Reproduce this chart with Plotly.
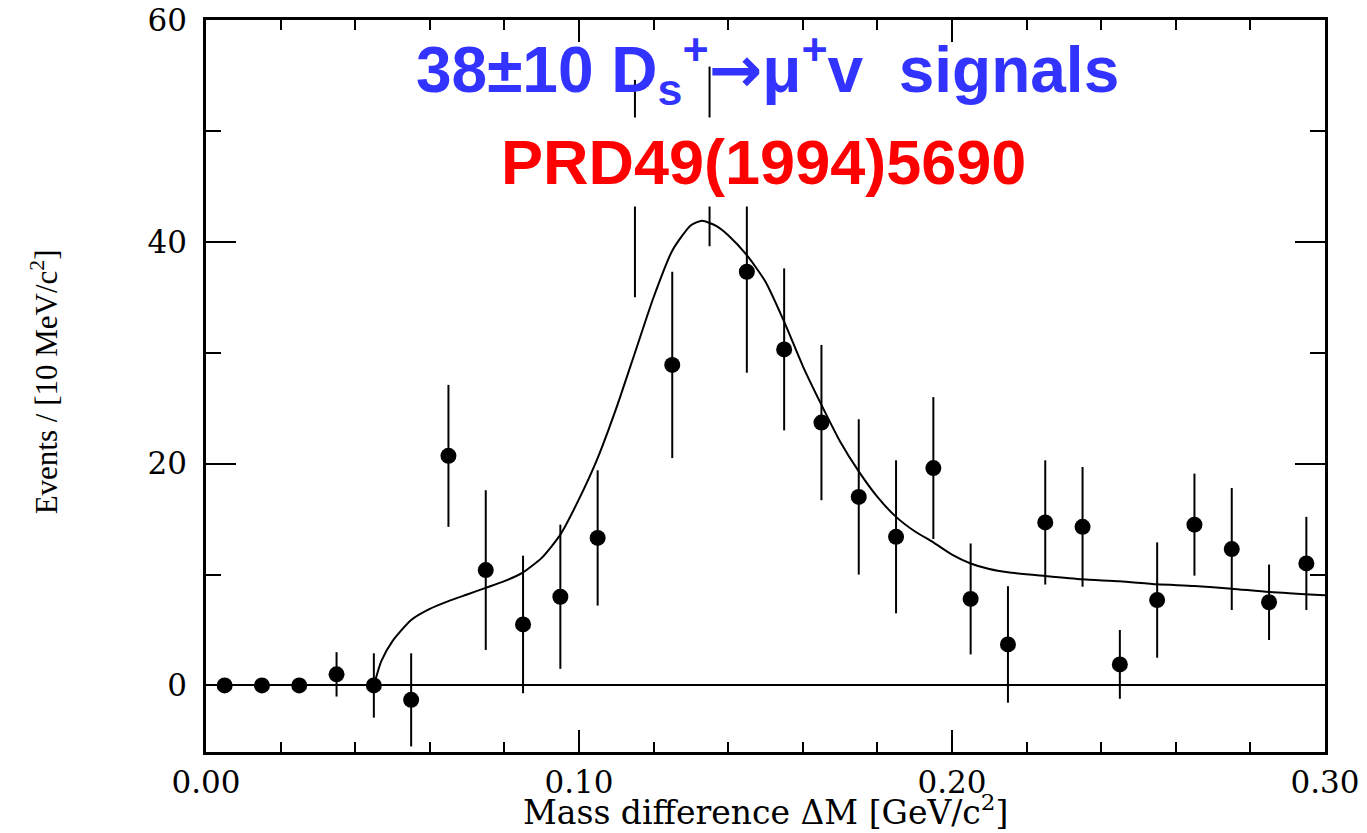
import plotly.graph_objects as go

# Data
bin_centers = [0.005, 0.015, 0.025, 0.035, 0.045, 0.055, 0.065, 0.075, 0.085, 0.095,
               0.105, 0.115, 0.125, 0.135, 0.145, 0.155, 0.165, 0.175, 0.185, 0.195,
               0.205, 0.215, 0.225, 0.235, 0.245, 0.255, 0.265, 0.275, 0.285, 0.295]
events = [0.0, 0.0, 0.0, 1.0, 0.0, -1.3, 20.7, 10.4, 5.5, 8.0,
          13.3, 44.8, 28.9, 47.7, 37.3, 30.3, 23.7, 17.0, 13.4, 19.6,
          7.8, 3.7, 14.7, 14.3, 1.9, 7.7, 14.5, 12.3, 7.5, 11.0]
errors = [0.0, 0.0, 0.0, 2.0, 2.9, 4.2, 6.4, 7.2, 6.2, 6.5,
          6.1, 9.8, 8.4, 8.1, 9.1, 7.3, 7.0, 7.0, 6.9, 6.4,
          5.0, 5.25, 5.6, 5.4, 3.1, 5.2, 4.6, 5.5, 3.4, 4.2]

fit_x = [0.045, 0.047, 0.050, 0.055, 0.060, 0.065, 0.070, 0.075, 0.080, 0.085,
         0.090, 0.095, 0.100, 0.105, 0.110, 0.115, 0.120, 0.125, 0.130, 0.133,
         0.137, 0.140, 0.145, 0.150, 0.155, 0.160, 0.165, 0.170, 0.175, 0.180,
         0.185, 0.190, 0.195, 0.200, 0.205, 0.210, 0.215, 0.225, 0.235, 0.245,
         0.255, 0.265, 0.275, 0.285, 0.300]
fit_y = [0.0, 2.2, 4.0, 5.9, 6.9, 7.6, 8.2, 8.8, 9.4, 10.2,
         11.5, 13.6, 16.8, 20.5, 25.0, 30.0, 35.0, 39.2, 41.5, 41.9,
         41.4, 40.6, 38.8, 36.4, 32.8, 28.8, 25.3, 22.0, 19.3, 17.0,
         15.2, 13.9, 12.9, 11.8, 11.0, 10.5, 10.2, 9.87, 9.57, 9.39,
         9.12, 8.97, 8.73, 8.43, 8.13]

x_tick_vals = [0.0, 0.1, 0.2, 0.3]
x_tick_text = ["0.00", "0.10", "0.20", "0.30"]
y_tick_vals = [0, 20, 40, 60]
y_tick_text = ["0", "20", "40", "60"]

x_title = "Mass difference ΔM [GeV/c<sup>2</sup>]"
y_title = "Events / [10 MeV/c<sup>2</sup>]"

serif = "DejaVu Serif"

fig = go.Figure()
fig.add_trace(go.Scatter(
    x=fit_x, y=fit_y, mode="lines",
    line=dict(color="black", width=2, shape="spline", smoothing=0.6),
    showlegend=False, hoverinfo="skip"))
fig.add_trace(go.Scatter(
    x=bin_centers, y=events, mode="markers",
    marker=dict(color="black", size=16, symbol="circle"),
    error_y=dict(type="data", array=errors, visible=True, color="black",
                 thickness=2, width=0),
    showlegend=False))

fig.update_layout(
    width=1367, height=833,
    margin=dict(l=198, r=50, t=12, b=89),
    paper_bgcolor="white", plot_bgcolor="white",
    font=dict(family=serif, color="black"),
)

fig.update_xaxes(
    range=[0, 0.3], showgrid=False, zeroline=False, automargin=False,
    showline=True, linecolor="black", linewidth=2.5, mirror="ticks",
    ticks="inside", ticklen=22, tickwidth=2, tickcolor="black",
    tickmode="array", tickvals=x_tick_vals, ticktext=x_tick_text,
    tickfont=dict(family=serif, size=31, color="black"),
    ticklabelstandoff=1, ticklabeloverflow="allow",
    minor=dict(ticks="inside", ticklen=10, tickwidth=2, tickcolor="black",
               tickmode="linear", tick0=0, dtick=0.02, showgrid=False),
)
fig.update_yaxes(
    range=[-6, 60], showgrid=False, automargin=False,
    zeroline=True, zerolinecolor="black", zerolinewidth=2,
    showline=True, linecolor="black", linewidth=2.5, mirror="ticks",
    ticks="inside", ticklen=30, tickwidth=2, tickcolor="black",
    tickmode="array", tickvals=y_tick_vals, ticktext=y_tick_text,
    tickfont=dict(family=serif, size=31, color="black"),
    ticklabelstandoff=10, ticklabeloverflow="allow",
    minor=dict(ticks="inside", ticklen=15, tickwidth=2, tickcolor="black",
               tickmode="linear", tick0=0, dtick=10, showgrid=False),
)

# axis titles
fig.add_annotation(
    xref="paper", yref="paper", x=0.5, y=0, yshift=-58,
    xanchor="center", yanchor="middle", showarrow=False,
    text=x_title, font=dict(family=serif, size=33, color="black"),
)
fig.add_annotation(
    xref="paper", yref="paper", x=0, y=0.505, xshift=-162,
    xanchor="center", yanchor="middle", showarrow=False, textangle=-90,
    text=y_title, font=dict(family="Liberation Serif", size=31, color="black"),
)

fig.add_annotation(
    xref="paper", yref="paper", x=0.502, y=0.933,
    xanchor="center", yanchor="middle", showarrow=False,
    text=("<b>38±10 D<sub>s</sub><sup>+</sup>"
          "<span style=\"font-family:'DejaVu Sans'\">→</span>"
          "μ<sup>+</sup>v\u00a0\u00a0signals</b>"),
    font=dict(family="Liberation Sans", size=64, color="#3333ff"),
)
fig.add_annotation(
    xref="paper", yref="paper", x=0.498, y=0.806,
    xanchor="center", yanchor="middle", showarrow=False,
    text="<b>PRD49(1994)5690</b>",
    font=dict(family="Liberation Sans", size=63, color="#ff0000"),
    bgcolor="white", borderpad=9,
)

fig.write_html("out.html")
